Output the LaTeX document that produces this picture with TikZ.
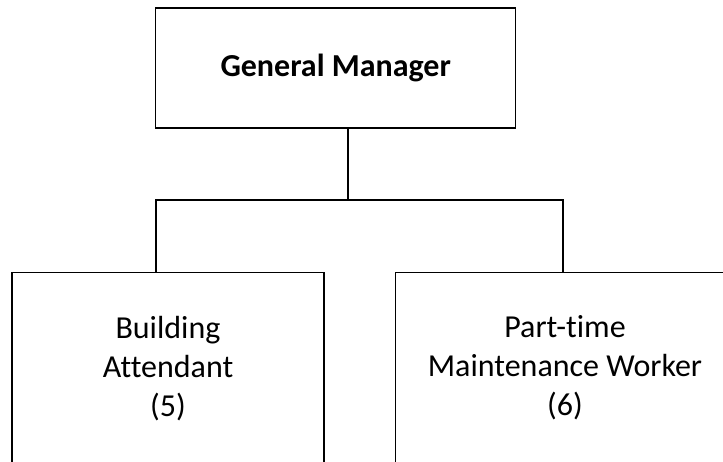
\documentclass[tikz,border=0pt]{standalone}
\usepackage{fontspec}
\setmainfont{Carlito}[Ligatures=NoCommon]
\usetikzlibrary{positioning}

\tikzset{
  post/.style={draw, line width=1.4pt, align=center,
    font=\fontsize{32}{39}\selectfont},
  link/.style={line width=1.4pt}
}

\begin{document}
\begin{tikzpicture}[x=1pt, y=1pt]
      % Set up the page frame and cut off whatever runs past it
      \useasboundingbox (0,0) rectangle (723,-462);
      \clip (0,0) rectangle (723,-462);
      % The boxes for the three posts
      \node[post, minimum width=360pt, minimum height=120pt]
        (gm) at (335.7,-68) {\textbf{General Manager}};
      \node[post, minimum width=312pt, minimum height=191pt]
        (attendant) at (168,-368.2) {Building\\Attendant\\(5)};
      \node[post, minimum width=338.6pt, minimum height=191pt]
        (worker) at (565,-368.2) {Part-time\\Maintenance Worker\\(6)};
      % Reporting lines
      \coordinate (bus) at (348,-200);
      \coordinate (busL) at (156,-200);
      \coordinate (busR) at (563,-200);
      \draw[link] (gm.south -| bus) -- (bus);
      \draw[link] (busL |- attendant.north) -- (busL) -- (busR)
        -- (busR |- worker.north);
    \end{tikzpicture}
\end{document}
